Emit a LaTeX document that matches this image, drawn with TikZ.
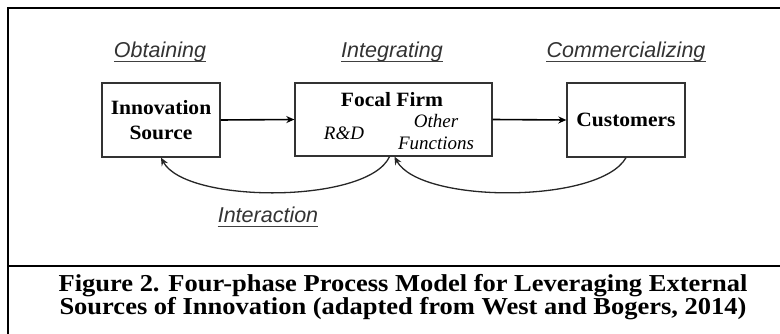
\documentclass[tikz,border=0pt]{standalone}
\usepackage{fontspec}
\setmainfont{Liberation Serif}
\newfontfamily\phasefont{Liberation Sans}
\newfontfamily\boxfont[FakeStretch=1.06]{Liberation Serif}
\newfontfamily\capfont[FakeStretch=1.09]{Liberation Serif}
\usetikzlibrary{arrows.meta}
\begin{document}
\begin{tikzpicture}[x=1pt,y=-1pt,
  frame/.style={line width=2.4pt,black},
  block/.style={draw=black!80,line width=1.3pt,inner sep=0pt,
    font=\boxfont\fontsize{20.3}{25}\selectfont\bfseries,align=center},
  phase/.style={font=\phasefont\itshape\fontsize{21.5}{24}\selectfont,
    text=black!80,anchor=base,inner sep=0pt},
  rule/.style={line width=1.2pt,black!75},
  role/.style={font=\fontsize{19}{22}\selectfont\itshape,anchor=base,inner sep=0pt},
  flow/.style={line width=1.6pt,-{Stealth[length=8pt,width=7pt]}},
  loopback/.style={line width=1.3pt,black!85,-{Stealth[length=8pt,width=7pt]}}]
\useasboundingbox (0,0) rectangle (780,334);

% outer frame and caption divider
\draw[frame] (8,334) -- (8,8) -- (780,8);
\draw[frame] (8,266) -- (780,266);

% phase headings, underlined
\node[phase] (obt) at (160,58) {Obtaining};
\node[phase] (int) at (392,58) {Integrating};
\node[phase] (com) at (626,58) {Commercializing};
\node[phase] (inter) at (268,223) {Interaction};
\foreach \n in {obt,int,com,inter}
  \draw[rule] ([yshift=-3.4pt]\n.base west) -- ([yshift=-3.4pt]\n.base east);

% blocks
\node[block,minimum width=118pt,minimum height=74pt] (src) at (161,120) {Innovation\\Source};
\node[block,minimum width=197pt,minimum height=73pt] (ff) at (393.5,119.5) {};
\node[block,minimum width=118pt,minimum height=74pt] (cust) at (626,120) {Customers};

% focal firm contents
\node[font=\boxfont\fontsize{20.3}{25}\selectfont\bfseries,anchor=base,inner sep=0pt] (fftitle) at (392,107) {Focal Firm};
\node[role] (rd) at (344,140) {R\&D};
\node[role,align=center] (other) at (436,150) {Other\\Functions};

% forward flow
\draw[flow] (src.east) -- (ff.west);
\draw[flow] (ff.east) -- (cust.west);

% interaction loops
\draw[loopback] (cust.south) .. controls (600,204) and (420,204) .. ([xshift=1pt]ff.south);
\draw[loopback] ([xshift=-4pt]ff.south) .. controls (368,204) and (186,204) .. (src.south);

% caption
\node[font=\capfont\fontsize{24.3}{23}\selectfont\bfseries,align=center,anchor=base,inner sep=0pt] (cap) at (403,314)
  {Figure 2. Four-phase Process Model for Leveraging External\\Sources of Innovation (adapted from West and Bogers, 2014)};
\end{tikzpicture}
\end{document}
